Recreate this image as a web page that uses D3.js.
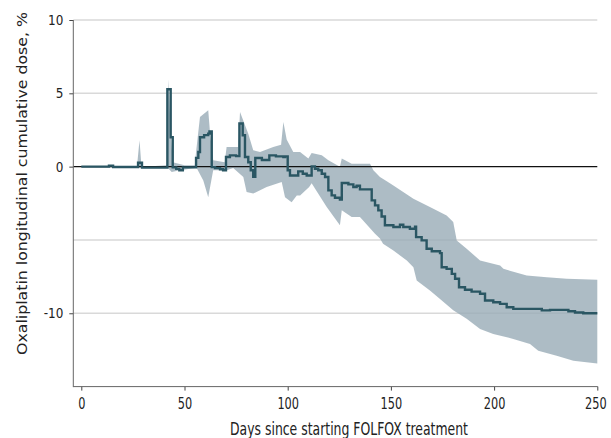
<!DOCTYPE html>
<html>
<head>
<meta charset="utf-8">
<script src="https://cdn.jsdelivr.net/npm/d3@7"></script>
<style>
  body { margin: 0; background: #fff; }
  svg text { font-family: "DejaVu Sans Condensed", "DejaVu Sans", sans-serif; fill: #222; }
</style>
</head>
<body>
<svg id="chart"></svg>
<script>
// x ticks, y ticks (labelled) and y gridlines
var xTicks = [0, 50, 100, 150, 200, 250]
var yTicks = [10, 5, 0, -10]
var yGrid = [10, 5, -5, -10]

// mean difference (step line), [day, %]
var meanLine = [
  [0, 0], [13.4, 0.07], [15.4, -0.02], [27.5, 0.27], [29.4, -0.07],
  [41.7, 5.28], [43.3, 2.0], [44.3, -0.05], [46.0, -0.15], [47.5, -0.25], [49.2, -0.05],
  [55.6, 0.6], [56.7, 1.0], [57.5, 2.0], [59.5, 2.15], [61.5, 2.25], [62.1, 2.4],
  [63.2, -0.03], [64.8, -0.1], [67.2, -0.18], [68.7, -0.25],
  [70.1, 0.66], [72, 0.77], [75, 0.72], [76.6, 2.94], [78.2, 2.14], [79.3, 0.66],
  [80.9, 0.3], [82.1, -0.25], [83.3, -0.7], [84.3, 0.59], [87.5, 0.45], [91.1, 0.77],
  [94.3, 0.7], [97.9, 0.66], [98.7, 0.7], [100, -0.25], [101.1, -0.6], [105.1, -0.32],
  [107.3, -0.48], [109.2, -0.6], [111.6, 0.02], [113.2, -0.14], [114.8, -0.25],
  [116.5, -0.48], [118.1, -0.71], [119.7, -1.62], [121.3, -1.96], [122.9, -2.12],
  [125.3, -2.25], [126.2, -1.12], [129.4, -1.21], [131.8, -1.39], [133.4, -1.3],
  [135, -1.55], [140.7, -2.3], [142.3, -2.64], [143.9, -2.98], [145.5, -3.4],
  [147.1, -4.0], [151.2, -4.12], [154.4, -3.96], [156, -4.12], [159.2, -4.24],
  [161.7, -4.1], [162.2, -4.81], [164.9, -5.03], [167.3, -5.6], [169.8, -5.77],
  [173.8, -5.9], [174.6, -6.86], [177, -6.97], [179.5, -7.31], [181.1, -7.65],
  [183, -8.22], [185.9, -8.4], [189.1, -8.52], [193.2, -8.67], [195.6, -9.13],
  [199.6, -9.25], [202.9, -9.36], [206.1, -9.59], [209.3, -9.7], [223.1, -9.8],
  [227.1, -9.77], [236, -9.86], [239.2, -9.95], [243.2, -10.0], [250, -10.0]
]

// upper confidence bound, [day, %]
var upperBand = [
  [0, 0.03], [27, 0.05], [28.2, 1.8], [29, 0.3], [30, 0.0], [41.5, 0.1], [42.2, 5.96],
  [43.3, 2.5], [44.3, 0.3], [50, 0.1], [55, 0.1], [55.6, 1.0], [57.5, 3.39], [61.5, 3.85],
  [62.4, 2.25], [63.9, 0.43], [69.5, 0.3], [70.4, 1.34], [76, 1.34], [76.9, 3.73],
  [80.9, 2.25], [83.3, 1.11], [86.6, 1.0], [93, 1.34], [96.8, 1.5], [97.9, 3.05],
  [99.5, 1.85], [102.7, 1.0], [106, 1.0], [110, 0.55], [111.6, 0.93], [116.5, 0.77],
  [119.7, 0.43], [125.3, 0.0], [126.2, 0.55], [131, 0.2], [139.9, 0.2], [141.5, -0.25],
  [144.7, -0.71], [148, -1.0], [151.2, -1.28], [160.9, -2.19], [168.9, -2.76],
  [177, -3.33], [180.2, -3.78], [181.9, -5.03], [186.7, -5.6], [193.2, -6.4],
  [202.9, -6.74], [204.5, -6.97], [215.8, -7.43], [225.5, -7.54], [235.2, -7.65], [250, -7.72]
]

// lower confidence bound, [day, %]
var lowerBand = [
  [0, -0.03], [27, -0.05], [30, -0.1], [41.5, -0.1], [42, -0.1], [43.8, -0.37],
  [47.8, -0.25], [55, -0.1], [55.9, -0.1], [59.1, -0.94], [61.5, -2.08], [62.4, -1.39],
  [63.9, -0.25], [70.4, -0.25], [73.6, -0.1], [78.5, -0.71], [80.1, -1.73], [83.3, -1.84],
  [89.8, -1.39], [97.1, -1.05], [98.7, -2.08], [101.9, -2.42], [104.4, -1.96], [106, -1.96],
  [110.4, -1.39], [111.6, -1.14], [118.9, -2.76], [125.3, -4.0], [126.2, -2.98],
  [131, -3.44], [135, -3.44], [142.3, -4.58], [144.7, -4.9], [146.2, -5.26],
  [151.2, -5.72], [157.7, -6.4], [160.9, -6.86], [162.5, -7.77], [168.9, -8.45],
  [173.8, -9.02], [180.2, -9.8], [186.7, -10.38], [193.2, -11.07], [199.6, -11.41],
  [209.3, -11.75], [217.4, -12.09], [221.4, -12.55], [230.3, -12.89], [238.4, -13.23], [250, -13.42]
]

var width = 611
var height = 438

var svg = d3.select('#chart').attr('width', width).attr('height', height)

var axisLeft = 73.3
var axisBottom = 386.6

var x = d3.scaleLinear().domain([0, 250]).range([81.3, 597.3])
var y = d3.scaleLinear().domain([-15, 10]).range([386.6, 20])

// squeeze a label horizontally so the condensed fallback looks narrower
function narrow(sel, factor) {
  sel.each(function () {
    var len = this.getComputedTextLength()
    d3.select(this).attr('textLength', len * factor).attr('lengthAdjust', 'spacingAndGlyphs')
  })
}

// gridlines
svg.append('g').selectAll('line')
  .data(yGrid)
  .enter().append('line')
  .attr('x1', axisLeft).attr('x2', x(250))
  .attr('y1', function (d) { return y(d) }).attr('y2', function (d) { return y(d) })
  .attr('stroke', '#d9d9d9').attr('stroke-width', 1.6)

// confidence band
var bandLine = d3.line()
  .x(function (d) { return x(d[0]) })
  .y(function (d) { return y(d[1]) })

svg.append('path')
  .attr('d', bandLine(upperBand.concat(lowerBand.slice().reverse())) + 'Z')
  .attr('fill', 'rgb(152,171,183)')
  .attr('fill-opacity', 0.8)

// zero reference line
svg.append('line')
  .attr('x1', axisLeft).attr('x2', x(250))
  .attr('y1', y(0)).attr('y2', y(0))
  .attr('stroke', '#111').attr('stroke-width', 1.1)

// mean line
var stepLine = d3.line()
  .curve(d3.curveStepAfter)
  .x(function (d) { return x(d[0]) })
  .y(function (d) { return y(d[1]) })

svg.append('path')
  .attr('d', stepLine(meanLine))
  .attr('fill', 'none')
  .attr('stroke', '#2a5663')
  .attr('stroke-width', 2.4)

// y axis
var yAxis = svg.append('g').attr('transform', 'translate(' + axisLeft + ',0)')
  .call(d3.axisLeft(y).tickValues(yTicks).tickSize(4).tickPadding(6)
    .tickFormat(function (d) { return d < 0 ? '-' + Math.abs(d) : d }))
yAxis.select('.domain').remove()
yAxis.append('line').attr('x1', 0).attr('x2', 0).attr('y1', y(10)).attr('y2', axisBottom + 0.5)
  .attr('stroke', '#666')
yAxis.selectAll('.tick line').attr('stroke', '#444')
yAxis.selectAll('text').attr('font-size', 14.5).style('fill', '#222').call(narrow, 0.92)

// x axis
var xAxis = svg.append('g').attr('transform', 'translate(0,' + axisBottom + ')')
  .call(d3.axisBottom(x).tickValues(xTicks).tickSize(4).tickPadding(8))
xAxis.select('.domain').remove()
xAxis.append('line').attr('x1', axisLeft).attr('x2', x(250) + 0.5).attr('y1', 0).attr('y2', 0)
  .attr('stroke', '#666')
xAxis.selectAll('.tick line').attr('stroke', '#444')
xAxis.selectAll('text').attr('font-size', 15).style('fill', '#222').call(narrow, 0.84)
// last label sits on the right edge, nudge it in a little
xAxis.selectAll('.tick text').filter(function (d) { return d === 250 }).attr('dx', -2)

// axis titles
svg.append('text')
  .attr('x', 349).attr('y', 435)
  .attr('text-anchor', 'middle').attr('font-size', 17)
  .attr('textLength', 238).attr('lengthAdjust', 'spacingAndGlyphs')
  .text('Days since starting FOLFOX treatment')

svg.append('text')
  .attr('transform', 'translate(27,183.5) rotate(-90)')
  .attr('text-anchor', 'middle').attr('font-size', 14.5)
  .style('font-family', '"DejaVu Sans", sans-serif')
  .attr('textLength', 343).attr('lengthAdjust', 'spacingAndGlyphs')
  .text('Oxaliplatin longitudinal cumulative dose, %')
</script>
</body>
</html>
